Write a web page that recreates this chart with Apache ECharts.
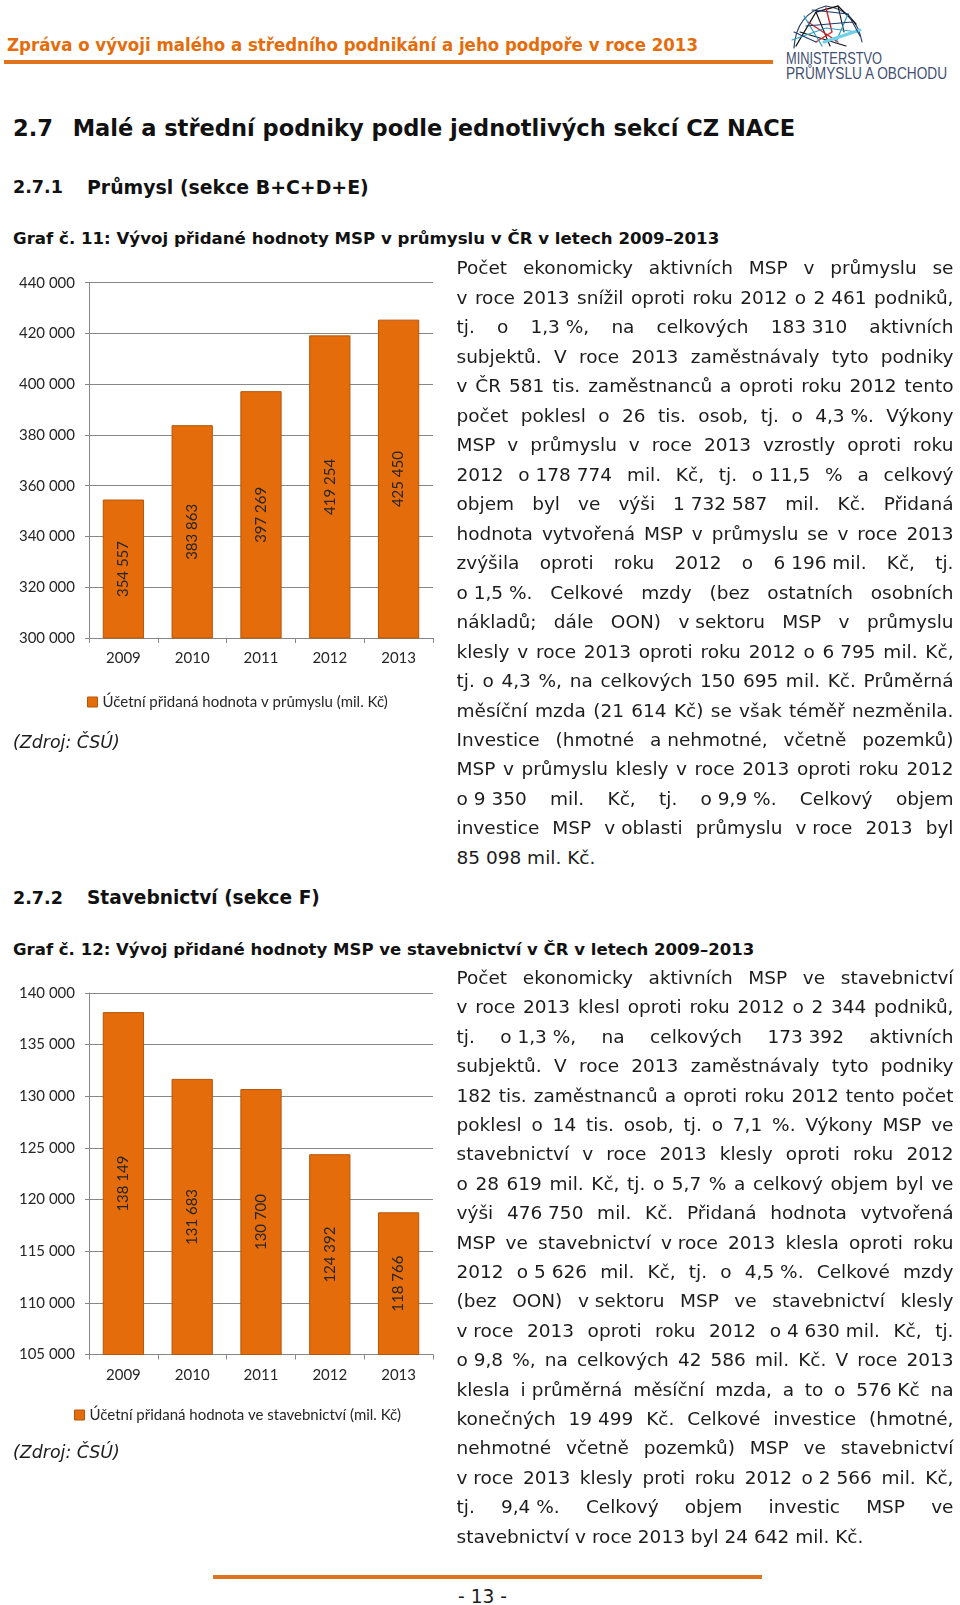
<!DOCTYPE html>
<html><head><meta charset="utf-8">
<script src="https://cdn.jsdelivr.net/npm/echarts@6/dist/echarts.min.js"></script>
<style>
html,body{margin:0;padding:0;background:#fff;}
body{width:960px;height:1605px;position:relative;overflow:hidden;font-family:'DejaVu Sans',Verdana,sans-serif;color:#1a1a1a;}
.abs{position:absolute;white-space:nowrap;}
.t{display:inline-block;white-space:nowrap;}
.chart{position:absolute;}
</style></head><body>
<div id="c1" class="chart" style="left:0;top:260px;width:460px;height:470px;"></div>
<div id="c2" class="chart" style="left:0;top:970px;width:460px;height:470px;"></div>
<svg class="abs" style="left:786px;top:2px;" width="82" height="50" viewBox="0 0 82 50">
  <g fill="none" stroke-linecap="round">
    <path d="M8,46 Q10,12 40,4 Q70,8 76,40" stroke="#2a3f6a" stroke-width="1.2"/>
    <path d="M10,44 L30,10 L52,4 L70,22" stroke="#111" stroke-width="1.3"/>
    <path d="M14,30 L60,44 M30,10 L44,44 M52,4 L58,30" stroke="#111" stroke-width="1.1"/>
    <path d="M22,20 L52,40 M40,6 L46,30 M46,30 L30,40" stroke="#d2232a" stroke-width="1.4"/>
    <path d="M6,38 L40,26 L72,30 M18,14 L36,44 M62,12 L50,40" stroke="#2a9fc0" stroke-width="1.2"/>
    <path d="M38,40 L74,28" stroke="#6fd0ea" stroke-width="3"/>
    <path d="M26,8 L62,12 L74,34 M8,30 L30,40 M20,24 L66,20" stroke="#1e3a6e" stroke-width="1.1"/>
  </g>
</svg>
<script>
// ---------- chart data ----------
const years = ['2009', '2010', '2011', '2012', '2013'];
const industryValues = [354557, 383863, 397269, 419254, 425450];
const constructionValues = [138149, 131683, 130700, 124392, 118766];
const industryAxis = [300000, 440000, 20000];      // min, max, interval
const constructionAxis = [105000, 140000, 5000];   // min, max, interval
const industryName = 'Účetní přidaná hodnota v průmyslu (mil. Kč)';
const constructionName = 'Účetní přidaná hodnota ve stavebnictví (mil. Kč)';

// ---------- page texts ----------
const headerTitle = 'Zpráva o vývoji malého a středního podnikání a jeho podpoře v roce 2013';
const para1Lines = [
"Počet ekonomicky aktivních MSP v průmyslu se",
"v roce 2013 snížil oproti roku 2012 o 2~461 podniků,",
"tj. o 1,3~%, na celkových 183~310 aktivních",
"subjektů. V roce 2013 zaměstnávaly tyto podniky",
"v ČR 581 tis. zaměstnanců a oproti roku 2012 tento",
"počet poklesl o 26 tis. osob, tj. o 4,3~%. Výkony",
"MSP v průmyslu v roce 2013 vzrostly oproti roku",
"2012 o~178~774 mil. Kč, tj. o~11,5 % a celkový",
"objem byl ve výši 1~732~587 mil. Kč. Přidaná",
"hodnota vytvořená MSP v průmyslu se v roce 2013",
"zvýšila oproti roku 2012 o 6~196~mil. Kč, tj.",
"o~1,5~%. Celkové mzdy (bez ostatních osobních",
"nákladů; dále OON) v~sektoru MSP v průmyslu",
"klesly v roce 2013 oproti roku 2012 o 6~795 mil. Kč,",
"tj. o 4,3 %, na celkových 150 695 mil. Kč. Průměrná",
"měsíční mzda (21 614 Kč) se však téměř nezměnila.",
"Investice (hmotné a~nehmotné, včetně pozemků)",
"MSP v průmyslu klesly v roce 2013 oproti roku 2012",
"o~9~350 mil. Kč, tj. o~9,9~%. Celkový objem",
"investice MSP v~oblasti průmyslu v~roce 2013 byl",
"85 098 mil. Kč."
];
const para2Lines = [
"Počet ekonomicky aktivních MSP ve stavebnictví",
"v roce 2013 klesl oproti roku 2012 o 2 344 podniků,",
"tj. o~1,3~%, na celkových 173~392 aktivních",
"subjektů. V roce 2013 zaměstnávaly tyto podniky",
"182 tis. zaměstnanců a oproti roku 2012 tento počet",
"poklesl o 14 tis. osob, tj. o 7,1 %. Výkony MSP ve",
"stavebnictví v roce 2013 klesly oproti roku 2012",
"o 28 619 mil. Kč, tj. o 5,7 % a celkový objem byl ve",
"výši 476~750 mil. Kč. Přidaná hodnota vytvořená",
"MSP ve stavebnictví v~roce 2013 klesla oproti roku",
"2012 o~5~626 mil. Kč, tj. o 4,5~%. Celkové mzdy",
"(bez OON) v~sektoru MSP ve stavebnictví klesly",
"v~roce 2013 oproti roku 2012 o~4~630~mil. Kč, tj.",
"o~9,8 %, na celkových 42 586 mil. Kč. V roce 2013",
"klesla i~průměrná měsíční mzda, a to o 576~Kč na",
"konečných 19~499 Kč. Celkové investice (hmotné,",
"nehmotné včetně pozemků) MSP ve stavebnictví",
"v~roce 2013 klesly proti roku 2012 o~2~566 mil. Kč,",
"tj. 9,4~%. Celkový objem investic MSP ve",
"stavebnictví v roce 2013 byl 24~642 mil. Kč."
];

function esc(s){return s.replace(/&/g,'&amp;').replace(/</g,'&lt;');}

function placeText(txt, x, cy, targetW, style, mode) {
  const H = 40;
  const d = document.createElement('div'); d.className = 'abs';
  d.style.left = x + 'px'; d.style.top = (cy - H/2) + 'px';
  d.style.height = H + 'px'; d.style.lineHeight = H + 'px';
  Object.assign(d.style, style || {});
  const s = document.createElement('span'); s.className = 't'; s.textContent = txt;
  d.appendChild(s); document.body.appendChild(d);
  if (targetW) {
    const w = s.getBoundingClientRect().width;
    if (mode === 'scale') {
      s.style.transformOrigin = 'left center';
      s.style.transform = 'scaleX(' + (targetW / w) + ')';
    } else {
      const fs = parseFloat(getComputedStyle(d).fontSize);
      d.style.fontSize = (fs * targetW / w) + 'px';
    }
  }
  return d;
}

function placeLine(txt, x, cy, W, justify) {
  const d = document.createElement('div'); d.className = 'abs';
  d.style.left = x + 'px'; d.style.top = (cy - 15) + 'px';
  d.style.lineHeight = '30px'; d.style.height = '30px';
  d.style.fontSize = '18.5px'; d.style.color = '#1c1c1c';
  const s = document.createElement('span'); s.className = 't';
  s.innerHTML = esc(txt).replace(/~/g, '<span style="word-spacing:0">&nbsp;</span>');
  d.appendChild(s); document.body.appendChild(d);
  if (justify) {
    const w = s.getBoundingClientRect().width;
    const n = (txt.match(/ /g) || []).length;
    if (w > W) {
      d.style.fontSize = (18.5 * W / w) + 'px';
    } else if (n > 0) {
      d.style.wordSpacing = ((W - w) / n) + 'px';
    }
  }
}

function fmt(v){return String(v).replace(/\B(?=(\d{3})+(?!\d))/g, ' ');}

function chartOption(values, axis, name, gridTop, gridHeight, legendLeft, legendTop) {
  const gray = '#878787';
  return {
    animation: false,
    textStyle: {fontFamily: 'Lato'},
    grid: {left: 89, top: gridTop, width: 344, height: gridHeight},
    legend: {
      show: true, left: legendLeft, top: legendTop, itemWidth: 10, itemHeight: 10,
      itemGap: 5, icon: 'rect',
      textStyle: {fontFamily: 'Lato', fontSize: 15, color: '#262626', lineHeight: 18, padding: [0,0,0,0]},
      data: [{name: name, itemStyle: {color: '#E46C0A', borderColor: '#b5570c', borderWidth: 1}}]
    },
    xAxis: {
      type: 'category', data: years, boundaryGap: true,
      axisLine: {show: true, lineStyle: {color: gray, width: 1}},
      axisTick: {show: true, length: 5, lineStyle: {color: gray}},
      axisLabel: {fontFamily: 'Lato', fontSize: 15, color: '#262626', margin: 13}
    },
    yAxis: {
      type: 'value', min: axis[0], max: axis[1], interval: axis[2],
      axisLine: {show: true, lineStyle: {color: gray, width: 1}},
      axisTick: {show: true, length: 4, lineStyle: {color: gray}},
      splitLine: {show: true, lineStyle: {color: gray, width: 1}},
      axisLabel: {fontFamily: 'Lato', fontSize: 15, color: '#262626', margin: 14, formatter: fmt}
    },
    series: [{
      name: name, type: 'bar', data: values, barCategoryGap: '40%',
      itemStyle: {color: '#E46C0A', borderColor: '#b5570c', borderWidth: 1},
      label: {show: true, position: 'inside', rotate: 90, fontFamily: 'Lato', fontSize: 15,
              color: '#262626', formatter: p => fmt(p.value)}
    }]
  };
}

function build() {
  // header
  placeText(headerTitle, 7, 45, 691, {fontWeight: 'bold', fontSize: '17.5px', color: '#E46C0A'}, 'scale');
  const hl = document.createElement('div'); hl.className = 'abs';
  Object.assign(hl.style, {left: '4px', top: '60px', width: '769px', height: '3.5px', background: '#E0731E'});
  document.body.appendChild(hl);
  const logoFont = {fontFamily: "'Liberation Sans Narrow','Liberation Sans',sans-serif", fontSize: '17px', color: '#3f4f72'};
  placeText('MINISTERSTVO', 786, 58.5, 96, logoFont, 'scale');
  placeText('PRŮMYSLU A OBCHODU', 786, 74, 161, logoFont, 'scale');

  // headings
  const hb = {fontWeight: 'bold', fontSize: '22px', color: '#111'};
  placeText('2.7', 13, 128, 40, hb);
  placeText('Malé a střední podniky podle jednotlivých sekcí CZ NACE', 72.7, 128, 723, hb);
  const h2 = {fontWeight: 'bold', fontSize: '18px', color: '#111'};
  placeText('2.7.1', 13, 187, 50, h2);
  placeText('Průmysl (sekce B+C+D+E)', 87, 187, 282, h2);
  const h3 = {fontWeight: 'bold', fontSize: '16px', color: '#111'};
  placeText('Graf č. 11: Vývoj přidané hodnoty MSP v průmyslu v ČR v letech 2009–2013', 13, 239, 707, h3);
  placeText('2.7.2', 13, 898, 50, h2);
  placeText('Stavebnictví (sekce F)', 87, 898, 233, h2);
  placeText('Graf č. 12: Vývoj přidané hodnoty MSP ve stavebnictví v ČR v letech 2009–2013', 13, 950, 742, h3);

  // sources
  const src = {fontStyle: 'italic', fontSize: '16px', color: '#1c1c1c'};
  placeText('(Zdroj: ČSÚ)', 13, 742, 107, src);
  placeText('(Zdroj: ČSÚ)', 13, 1452, 107, src);

  // paragraphs
  para1Lines.forEach((l, i) => placeLine(l, 456.5, 268.3 + i * 29.48, 497, i < para1Lines.length - 1));
  para2Lines.forEach((l, i) => placeLine(l, 456.5, 978 + i * 29.4, 497, i < para2Lines.length - 1));

  // footer
  const fl = document.createElement('div'); fl.className = 'abs';
  Object.assign(fl.style, {left: '213px', top: '1575px', width: '549px', height: '3.5px', background: '#E0731E'});
  document.body.appendChild(fl);
  placeText('- 13 -', 458, 1597, 49, {fontSize: '16px', color: '#1c1c1c'});

  // charts
  const c1 = echarts.init(document.getElementById('c1'), null, {renderer: 'canvas'});
  c1.setOption(chartOption(industryValues, industryAxis, industryName, 22.7, 355.3, 82, 428));
  const c2 = echarts.init(document.getElementById('c2'), null, {renderer: 'canvas'});
  c2.setOption(chartOption(constructionValues, constructionAxis, constructionName, 23, 361.5, 69, 431));
}

if (document.fonts && document.fonts.ready) { document.fonts.ready.then(build); } else { build(); }
</script>
</body></html>
